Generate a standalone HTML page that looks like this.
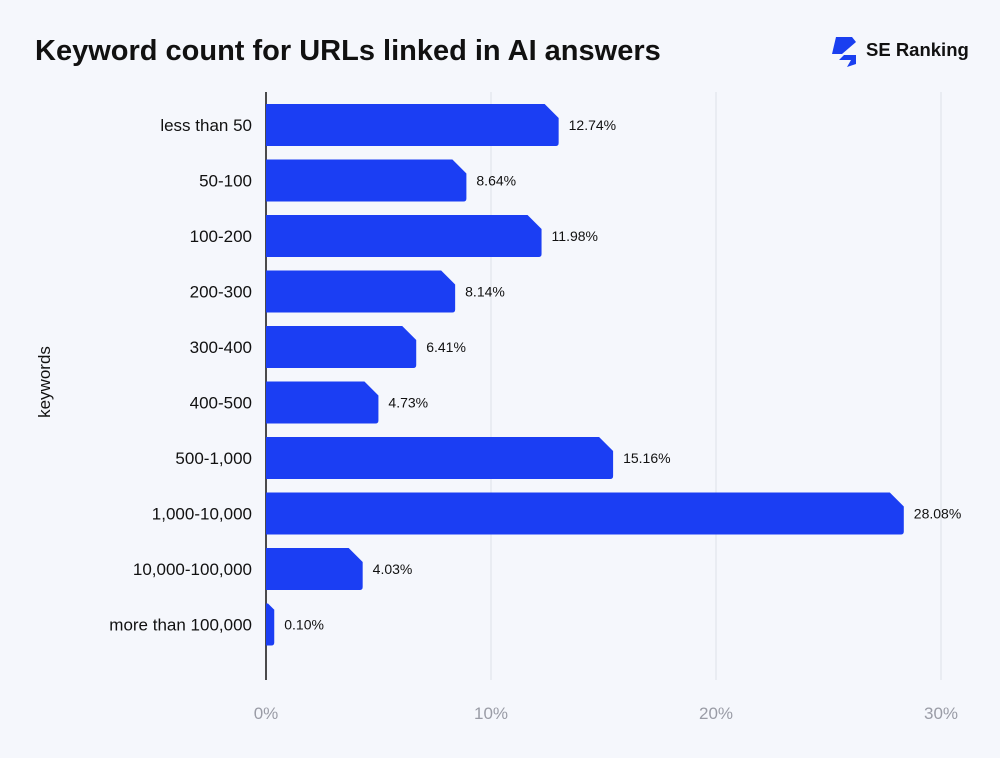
<!DOCTYPE html>
<html><head><meta charset="utf-8"><style>
body{margin:0;background:#f5f7fc;}
#wrap{position:relative;width:1000px;height:758px;background:#f5f7fc;font-family:"Liberation Sans",sans-serif;overflow:hidden}
</style></head><body>
<div id="wrap">
<svg id="chart" width="1000" height="758">
<text x="35" y="60" font-size="29" font-weight="bold" fill="#111">Keyword count for URLs linked in AI answers</text>
<g>
<path d="M836 37 L852 37 L856 42 L842 54 L832 54 Z" fill="#1a3ff0"/>
<path d="M844 55 L856 55 L856 64 L847 67 L851 60 L839 60 Z" fill="#1a3ff0"/>
<text x="866" y="56" font-size="18.5" font-weight="bold" fill="#111">SE Ranking</text>
</g>
<text transform="translate(50,382) rotate(-90)" text-anchor="middle" font-size="17" fill="#111">keywords</text>
<g id="grid"></g><g id="bars"></g>
</svg>
</div>
<script>
const categories=["less than 50","50-100","100-200","200-300","300-400","400-500","500-1,000","1,000-10,000","10,000-100,000","more than 100,000"];
const values=[12.74,8.64,11.98,8.14,6.41,4.73,15.16,28.08,4.03,0.10];
const ticks=[0,10,20,30];
const ns="http://www.w3.org/2000/svg";
const x0=266,pxPer=22.5,top0=104,pitch=55.5,bh=42;
const xs=v=>x0+v*pxPer;
const ys=i=>top0+i*pitch;
function mk(t,a,p){const e=document.createElementNS(ns,t);for(const k in a)e.setAttribute(k,a[k]);p.appendChild(e);return e;}
const grid=document.getElementById('grid'),bars=document.getElementById('bars');
ticks.forEach(t=>{
 if(t>0){const l=mk('line',{x1:xs(t),x2:xs(t),y1:92,y2:680,stroke:'#dde0e8','stroke-width':1},grid);
 
 }
 const tx=mk('text',{x:xs(t),y:719,'text-anchor':'middle','font-size':17,fill:'#9a9ca6'},grid);
 tx.textContent=t+'%';
 
 
});
const ax=mk('line',{x1:x0,x2:x0,y1:92,y2:680,stroke:'#111','stroke-width':1.5},grid);


values.forEach((v,i)=>{
 const y=ys(i),xe=xs(v)+6,c=Math.min(14,Math.max(0,xe-x0-2));
 const p=mk('path',{d:`M${x0} ${y} L${xe-c} ${y} L${xe} ${y+c} L${xe} ${y+bh-3} Q${xe} ${y+bh} ${xe-3} ${y+bh} L${x0} ${y+bh} Z`,fill:'#1b3ef3'},bars);
 
 
 const vl=mk('text',{x:xe+10,y:y+bh/2+5,'font-size':14,fill:'#111'},bars);
 vl.textContent=v.toFixed(2)+'%';
 
 
 const cl=mk('text',{x:252,y:y+bh/2+6,'text-anchor':'end','font-size':17,fill:'#111'},bars);
 cl.textContent=categories[i];
 
 
});
</script>
</body></html>
